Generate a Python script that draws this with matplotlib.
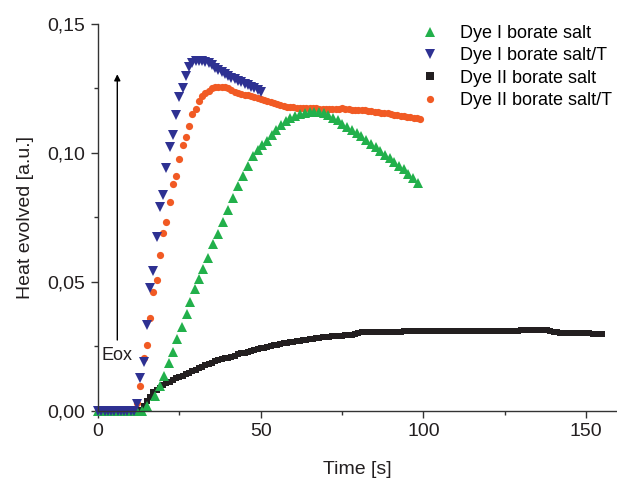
import numpy as np
import matplotlib.pyplot as plt
from matplotlib.ticker import MultipleLocator, FuncFormatter

plt.rcParams["font.family"] = ["Liberation Sans", "DejaVu Sans"]

# Dye I borate salt (green up-triangles)
dye1_t = [0, 1.5, 3, 4.5, 6, 7.5, 9, 10.5, 12, 13.5,
          15.0, 17.5, 19.0, 20.3, 21.9, 23.1, 24.4, 25.7, 27.2, 28.2,
          29.8, 31.1, 32.3, 33.9, 35.4, 37.0, 38.3, 40.0, 41.6, 43.1,
          44.6, 46.2, 47.7, 49.2, 50.5, 51.8, 53.3, 54.8, 56.2, 57.7,
          59.1, 60.6, 62.0, 63.5, 65.0, 66.4, 67.9, 69.3, 70.8, 72.2,
          73.7, 75.1, 76.6, 78.0, 79.5, 80.9, 82.4, 83.8, 85.3, 86.7,
          88.2, 89.6, 91.1, 92.5, 94.0, 95.4, 96.9, 98.3]
dye1_q = [0, 0, 0, 0, 0, 0, 0, 0, 0, 0,
          0.0020, 0.0060, 0.0098, 0.0137, 0.0186, 0.0227, 0.0278, 0.0324, 0.0375, 0.0423,
          0.0472, 0.0513, 0.0549, 0.0594, 0.0646, 0.0684, 0.0732, 0.0779, 0.0826, 0.0871,
          0.0910, 0.0948, 0.0987, 0.1013, 0.1030, 0.1045, 0.1070, 0.1090, 0.1108, 0.1122,
          0.1134, 0.1144, 0.1151, 0.1156, 0.1159, 0.1160, 0.1158, 0.1153, 0.1146, 0.1137,
          0.1126, 0.1114, 0.1102, 0.1090, 0.1077, 0.1064, 0.1050, 0.1036, 0.1022, 0.1008,
          0.0994, 0.0980, 0.0966, 0.0951, 0.0936, 0.0920, 0.0903, 0.0885]

# Dye I borate salt/T (blue down-triangles), one point per second
dye1T_t = list(range(0, 51))
dye1T_q = [0, 0, 0, 0, 0, 0, 0, 0, 0, 0, 0, 0,
           0.0027, 0.0127, 0.0189, 0.0332, 0.0475, 0.0541, 0.0673, 0.0789, 0.0839,
           0.0943, 0.1024, 0.1071, 0.1148, 0.1218, 0.1252, 0.1299, 0.1334, 0.1349,
           0.1355, 0.1358, 0.1358, 0.1354, 0.1347, 0.1339, 0.1330, 0.1322, 0.1314,
           0.1306, 0.1299, 0.1292, 0.1286, 0.1280, 0.1274, 0.1268, 0.1262, 0.1256,
           0.1250, 0.1244, 0.1238]

# Dye II borate salt (black squares), one point per second
dye2_t = list(range(0, 156))
dye2_q = [0, 0, 0, 0, 0, 0, 0, 0, 0, 0, 0, 0, 0,
          0.0005, 0.0020, 0.0038, 0.0055, 0.0072, 0.0082, 0.0091, 0.0099, 0.0107,
          0.0114, 0.0120, 0.0126, 0.0131, 0.0137, 0.0142, 0.0148, 0.0154, 0.0160,
          0.0166, 0.0172, 0.0177, 0.0182, 0.0187, 0.0192, 0.0196, 0.0200, 0.0204,
          0.0207, 0.0211, 0.0215, 0.0219, 0.0223, 0.0226, 0.0229, 0.0233, 0.0236,
          0.0239, 0.0243, 0.0246, 0.0249, 0.0252, 0.0254, 0.0257, 0.0259, 0.0262,
          0.0264, 0.0266, 0.0268, 0.0270, 0.0272, 0.0274, 0.0276, 0.0278, 0.0280,
          0.0282, 0.0284, 0.0285, 0.0286, 0.0287, 0.0289, 0.0290, 0.0291, 0.0292,
          0.0293, 0.0294, 0.0296, 0.0300, 0.0304, 0.0306, 0.0306, 0.0306, 0.0305,
          0.0305, 0.0306, 0.0306, 0.0307, 0.0307, 0.0307, 0.0308, 0.0308, 0.0308,
          0.0309, 0.0309, 0.0309, 0.0309, 0.0310, 0.0310, 0.0310, 0.0310, 0.0310,
          0.0310, 0.0310, 0.0311, 0.0311, 0.0311, 0.0311, 0.0311, 0.0311, 0.0311,
          0.0311, 0.0311, 0.0311, 0.0311, 0.0311, 0.0311, 0.0311, 0.0311, 0.0311,
          0.0311, 0.0311, 0.0311, 0.0311, 0.0311, 0.0311, 0.0311, 0.0311, 0.0311,
          0.0312, 0.0312, 0.0312, 0.0313, 0.0313, 0.0313, 0.0313, 0.0313, 0.0312,
          0.0310, 0.0306, 0.0305, 0.0304, 0.0304, 0.0304, 0.0303, 0.0303, 0.0302,
          0.0302, 0.0302, 0.0301, 0.0301, 0.0300, 0.0300, 0.0300, 0.0299]

# Dye II borate salt/T (orange circles), one point per second
dye2T_t = list(range(0, 100))
dye2T_q = [0, 0, 0, 0, 0, 0, 0, 0, 0, 0, 0, 0,
           0.0030, 0.0098, 0.0204, 0.0256, 0.0359, 0.0461, 0.0508, 0.0604, 0.0688,
           0.0733, 0.0809, 0.0880, 0.0912, 0.0977, 0.1032, 0.1062, 0.1106, 0.1152,
           0.1170, 0.1200, 0.1219, 0.1232, 0.1242, 0.1250, 0.1255, 0.1257, 0.1257,
           0.1254, 0.1250, 0.1244, 0.1238, 0.1234, 0.1230, 0.1226, 0.1223, 0.1220,
           0.1217, 0.1213, 0.1209, 0.1204, 0.1200, 0.1196, 0.1192, 0.1189, 0.1186,
           0.1183, 0.1180, 0.1178, 0.1177, 0.1176, 0.1175, 0.1175, 0.1174, 0.1174,
           0.1173, 0.1173, 0.1172, 0.1172, 0.1171, 0.1171, 0.1170, 0.1170, 0.1172,
           0.1176, 0.1172, 0.1169, 0.1168, 0.1168, 0.1168, 0.1167, 0.1166, 0.1164,
           0.1162, 0.1160, 0.1158, 0.1156, 0.1155, 0.1153, 0.1151, 0.1149, 0.1147,
           0.1145, 0.1143, 0.1140, 0.1138, 0.1136, 0.1134, 0.1132]

x_ticks = [0, 50, 100, 150]
y_ticks = [0.00, 0.05, 0.10, 0.15]

GREEN = "#22b04b"
BLUE = "#2e3192"
BLACK = "#231f20"
ORANGE = "#f15a24"
INK = "#231f20"

fig = plt.figure(figsize=(6.17, 4.79), dpi=100)
ax = fig.add_axes([0.159, 0.142, 0.841, 0.808])

h_black, = ax.plot(dye2_t, dye2_q, "s", color=BLACK, ms=4.2, mew=0, clip_on=False, label="Dye II borate salt")
h_orange, = ax.plot(dye2T_t, dye2T_q, "o", color=ORANGE, ms=5.2, mew=0, clip_on=False, label="Dye II borate salt/T")
h_green, = ax.plot(dye1_t, dye1_q, "^", color=GREEN, ms=7, mew=0, clip_on=False, label="Dye I borate salt")
h_blue, = ax.plot(dye1T_t, dye1T_q, "v", color=BLUE, ms=7, mew=0, clip_on=False, label="Dye I borate salt/T")

# Eox arrow
ax.annotate("", xy=(5.9, 0.1305), xytext=(5.9, 0.0275),
            arrowprops=dict(arrowstyle="-|>", color="black", lw=1.0, mutation_scale=9, shrinkA=0, shrinkB=0))
ax.text(1.0, 0.0216, "Eox", fontsize=13, va="center", ha="left", color=INK)

ax.set_xlim(0, 159.5)
ax.set_ylim(0, 0.15)
ax.set_xticks(x_ticks)
ax.set_yticks(y_ticks)
ax.xaxis.set_minor_locator(MultipleLocator(25))
ax.yaxis.set_minor_locator(MultipleLocator(0.025))
ax.yaxis.set_major_formatter(FuncFormatter(lambda v, p: f"{v:.2f}".replace(".", ",")))
ax.spines["top"].set_visible(False)
ax.spines["right"].set_visible(False)
for s in ["left", "bottom"]:
    ax.spines[s].set_linewidth(1.0)
    ax.spines[s].set_color("#333333")
ax.tick_params(which="major", direction="out", length=5, width=1.0, labelsize=14, pad=4,
               color="#333333", labelcolor=INK)
ax.tick_params(which="minor", direction="out", length=3, width=1.0, color="#333333")

ax.set_xlabel("Time [s]", fontsize=14, color=INK, labelpad=15)
ax.set_ylabel("Heat evolved [a.u.]", fontsize=14, color=INK, labelpad=10)

leg = ax.legend(handles=[h_green, h_blue, h_black, h_orange], loc="upper left",
                bbox_to_anchor=(0.6085, 1.016), frameon=False, fontsize=13,
                handlelength=1.0, handletextpad=1.17, labelspacing=0.3, borderaxespad=0)
# the legend square in the original is a bit larger than the data squares
leg.legend_handles[2].set_markersize(5.5)

fig.savefig("out.png", dpi=100)
